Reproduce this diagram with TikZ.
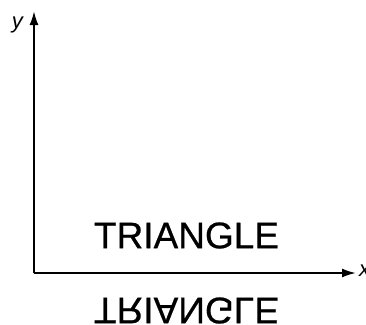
\documentclass[tikz,border=0pt]{standalone}
\usepackage{fontspec}
\setmainfont{Liberation Sans}
\newfontfamily\heavyfont[FakeBold=0.6]{Liberation Sans}
\usepackage{graphicx}
\usetikzlibrary{arrows.meta}
\tikzset{
  axis/.style={line width=2pt, -{Latex[length=14pt,width=9pt]}},
  bigtext/.style={inner sep=0pt, font=\heavyfont\fontsize{37}{40}\selectfont},
  axlabel/.style={inner sep=0pt, font=\fontsize{22}{24}\selectfont\itshape}
}
\begin{document}
\begin{tikzpicture}[x=1pt,y=-1pt]
\path[use as bounding box] (0,0) rectangle (366,324);
\clip (0,0) rectangle (366,324);
\coordinate (O) at (34,273);
\coordinate (Xend) at (356,273);
\coordinate (Yend) at (34,11);
\draw[axis] (O) -- (Xend);
\draw[axis] (O.center) -- (Yend);
\node[axlabel] (ylab) at (17.5,25) {y};
\node[axlabel, anchor=west] (xlab) at (359,271) {x};
\node[bigtext] (tri) at (186.5,235.5) {TRIANGLE};
\node[bigtext] (triref) at (186.5,310.5) {\scalebox{1}[-1]{TRIANGLE}};
\end{tikzpicture}
\end{document}
